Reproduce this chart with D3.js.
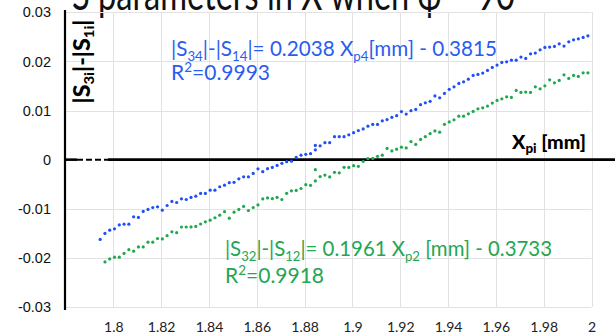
<!DOCTYPE html>
<html>
<head>
<meta charset="utf-8">
<script src="https://cdn.jsdelivr.net/npm/d3@7"></script>
<style>
  html, body { margin: 0; padding: 0; background: #fff; }
  svg { display: block; }
</style>
</head>
<body>
<script>
// Probe position X_pi [mm] for each measurement (one repeated reading at 1.8845)
const xValues = [
  1.7945, 1.7965, 1.7985, 1.8005, 1.8025, 1.8045, 1.8065, 1.8085, 1.8105, 1.8125,
  1.8145, 1.8165, 1.8185, 1.8205, 1.8225, 1.8245, 1.8265, 1.8285, 1.8305, 1.8325,
  1.8345, 1.8365, 1.8385, 1.8405, 1.8425, 1.8445, 1.8465, 1.8485, 1.8505, 1.8525,
  1.8545, 1.8565, 1.8585, 1.8605, 1.8625, 1.8645, 1.8665, 1.8685, 1.8705, 1.8725,
  1.8745, 1.8765, 1.8785, 1.8805, 1.8825, 1.8845, 1.8845, 1.8865, 1.8885, 1.8905,
  1.8925, 1.8945, 1.8965, 1.8985, 1.9005, 1.9025, 1.9045, 1.9065, 1.9085, 1.9105,
  1.9125, 1.9145, 1.9165, 1.9185, 1.9205, 1.9225, 1.9245, 1.9265, 1.9285, 1.9305,
  1.9325, 1.9345, 1.9365, 1.9385, 1.9405, 1.9425, 1.9445, 1.9465, 1.9485, 1.9505,
  1.9525, 1.9545, 1.9565, 1.9585, 1.9605, 1.9625, 1.9645, 1.9665, 1.9685, 1.9705,
  1.9725, 1.9745, 1.9765, 1.9785, 1.9805, 1.9825, 1.9845, 1.9865, 1.9885, 1.9905,
  1.9925, 1.9945, 1.9965, 1.9985
];

// |S34| - |S14|  (port 4 sweep)
const s34minusS14 = [
  -0.01625, -0.01503, -0.01436, -0.01409, -0.01328, -0.01314, -0.01314, -0.01165, -0.01177, -0.01055,
  -0.01014, -0.00974, -0.00961, -0.01029, -0.00933, -0.00851, -0.00872, -0.00798, -0.00811, -0.00770,
  -0.00743, -0.00688, -0.00688, -0.00621, -0.00621, -0.00552, -0.00519, -0.00468, -0.00462, -0.00391,
  -0.00350, -0.00350, -0.00281, -0.00187, -0.00244, -0.00183, -0.00159, -0.00118, -0.00075, -0.00041,
  -0.00031, 0.00045, 0.00092, 0.00108, 0.00122, 0.00200, 0.00289, 0.00281, 0.00346, 0.00346,
  0.00468, 0.00468, 0.00468, 0.00505, 0.00550, 0.00591, 0.00625, 0.00682, 0.00717, 0.00717,
  0.00790, 0.00815, 0.00862, 0.00896, 0.00978, 0.00927, 0.00998, 0.01022, 0.01120, 0.01157,
  0.01187, 0.01297, 0.01259, 0.01348, 0.01432, 0.01483, 0.01552, 0.01585, 0.01639, 0.01715,
  0.01735, 0.01762, 0.01817, 0.01878, 0.01925, 0.01980, 0.01992, 0.02026, 0.02026, 0.02088,
  0.02061, 0.02155, 0.02169, 0.02236, 0.02285, 0.02291, 0.02305, 0.02358, 0.02312, 0.02399,
  0.02440, 0.02460, 0.02489, 0.02521
];

// |S32| - |S12|  (port 2 sweep, no reading at the first position)
const s32minusS12 = [
  null, -0.02082, -0.02022, -0.01986, -0.01986, -0.01910, -0.01833, -0.01864, -0.01776, -0.01776,
  -0.01680, -0.01680, -0.01605, -0.01615, -0.01548, -0.01470, -0.01487, -0.01371, -0.01371, -0.01369,
  -0.01360, -0.01310, -0.01265, -0.01232, -0.01183, -0.01130, -0.01059, -0.01191, -0.01069, -0.01014,
  -0.00953, -0.01035, -0.00974, -0.00921, -0.00800, -0.00780, -0.00794, -0.00770, -0.00811, -0.00686,
  -0.00635, -0.00627, -0.00587, -0.00509, -0.00523, -0.00434, -0.00204, -0.00344, -0.00314, -0.00352,
  -0.00259, -0.00269, -0.00157, -0.00159, -0.00122, -0.00136, -0.00035, 0.00020, 0.00024, 0.00067,
  0.00092, 0.00228, 0.00177, 0.00214, 0.00255, 0.00238, 0.00367, 0.00310, 0.00411, 0.00468,
  0.00530, 0.00585, 0.00560, 0.00719, 0.00768, 0.00811, 0.00886, 0.00886, 0.00933, 0.00982,
  0.01035, 0.01055, 0.01090, 0.01151, 0.01206, 0.01238, 0.01279, 0.01267, 0.01409, 0.01369,
  0.01375, 0.01369, 0.01483, 0.01442, 0.01503, 0.01625, 0.01564, 0.01613, 0.01727, 0.01654,
  0.01715, 0.01694, 0.01768, 0.01768
];

const xTicks = [1.8, 1.82, 1.84, 1.86, 1.88, 1.9, 1.92, 1.94, 1.96, 1.98, 2];
const yTicks = [-0.03, -0.02, -0.01, 0, 0.01, 0.02, 0.03];

const BLUE = "#1f50f5";
const GREEN = "#1fa84e";
const BLUE_TEXT = "#2a5cf0";
const GREEN_TEXT = "#22a653";
const CAL = "Lato, 'Open Sans', sans-serif";

const W = 615, H = 334;
const svg = d3.select("body").append("svg").attr("width", W).attr("height", H);

const x = d3.scaleLinear().domain([1.78, 2.0]).range([65.5, 591.5]);
const y = d3.scaleLinear().domain([-0.03, 0.03]).range([307, 12.3]);

// Title (runs off the top edge), condensed to the chart's title width
const title = svg.append("text")
  .attr("x", 72).attr("y", 10)
  .attr("font-family", CAL).attr("font-size", 44)
  .attr("fill", "#111")
  .text("S parameters in X when \u03C6 = 90\u00B0");
const titleW = title.node().getComputedTextLength();
title.attr("textLength", titleW * 0.74).attr("lengthAdjust", "spacingAndGlyphs");

// Grid
const grid = svg.append("g").attr("stroke", "#e2e2e2").attr("stroke-width", 1);
grid.selectAll("line.v").data(xTicks).join("line")
  .attr("x1", d => Math.round(x(d)) + 0.5).attr("x2", d => Math.round(x(d)) + 0.5)
  .attr("y1", y(0.03)).attr("y2", y(-0.03));
grid.selectAll("line.h").data(yTicks.filter(d => d !== 0)).join("line")
  .attr("x1", x(1.78)).attr("x2", x(2.0))
  .attr("y1", d => Math.round(y(d)) + 0.5).attr("y2", d => Math.round(y(d)) + 0.5);

// Y tick labels
const fmt = d => String(+d.toFixed(2));
const yAxis = svg.append("g").attr("transform", "translate(51,0)")
  .call(d3.axisLeft(y).tickValues(yTicks).tickSize(0).tickPadding(0).tickFormat(fmt));
yAxis.select(".domain").remove();
yAxis.selectAll("text")
  .attr("font-family", "'Liberation Sans', Arial, sans-serif")
  .attr("font-size", 14.5).attr("fill", "#111");

// X tick labels
const xAxis = svg.append("g").attr("transform", "translate(0,331.5)")
  .call(d3.axisBottom(x).tickValues(xTicks).tickSize(0).tickPadding(0).tickFormat(fmt));
xAxis.select(".domain").remove();
xAxis.selectAll("text")
  .attr("y", 0).attr("dy", null)
  .attr("font-family", CAL).attr("font-size", 14).attr("fill", "#222");

// Vertical axis line
svg.append("line")
  .attr("x1", 65).attr("x2", 65).attr("y1", 10).attr("y2", 310)
  .attr("stroke", "#000").attr("stroke-width", 2.2);

// Zero line (with a short dashed stretch near the start)
const y0 = y(0);
svg.append("line").attr("x1", 65).attr("x2", 77).attr("y1", y0).attr("y2", y0)
  .attr("stroke", "#000").attr("stroke-width", 2.6);
svg.append("line").attr("x1", 77).attr("x2", 108).attr("y1", y0).attr("y2", y0)
  .attr("stroke", "#000").attr("stroke-width", 2).attr("stroke-dasharray", "6,3");
svg.append("line").attr("x1", 108).attr("x2", W).attr("y1", y0).attr("y2", y0)
  .attr("stroke", "#000").attr("stroke-width", 2.6);

// Data points
function drawSeries(values, color) {
  const pts = xValues.map((xv, i) => ({ xv, v: values[i] })).filter(d => d.v !== null);
  svg.append("g").selectAll("circle").data(pts).join("circle")
    .attr("cx", d => x(d.xv)).attr("cy", d => y(d.v))
    .attr("r", 1.6).attr("fill", color);
}
drawSeries(s34minusS14, BLUE);
drawSeries(s32minusS12, GREEN);

// Equation labels
function equation(x0, yBase, color, parts, width) {
  const t = svg.append("text")
    .attr("x", x0).attr("y", yBase)
    .attr("font-family", CAL).attr("font-size", 21).attr("fill", color)
    .attr("textLength", width).attr("lengthAdjust", "spacingAndGlyphs");
  parts.forEach(p => {
    const s = t.append("tspan").text(p.t);
    if (p.sub) s.attr("font-size", 13.5).attr("dy", 5);
    if (p.back) s.attr("dy", -5);
  });
  return t;
}
function rsq(x0, yBase, color, value) {
  const t = svg.append("text").attr("x", x0).attr("y", yBase)
    .attr("font-family", CAL).attr("font-size", 21).attr("fill", color);
  t.append("tspan").text("R");
  t.append("tspan").text("2").attr("font-size", 13.5).attr("dy", -8);
  t.append("tspan").text("=" + value).attr("dy", 8);
}

equation(171, 55.5, BLUE_TEXT, [
  { t: "|S" }, { t: "34", sub: true }, { t: "|-|S", back: true }, { t: "14", sub: true },
  { t: "|= 0.2038 X", back: true }, { t: "p4", sub: true }, { t: "[mm] - 0.3815", back: true }
], 326);
rsq(171, 80, BLUE_TEXT, "0.9993");

equation(225, 255.5, GREEN_TEXT, [
  { t: "|S" }, { t: "32", sub: true }, { t: "|-|S", back: true }, { t: "12", sub: true },
  { t: "|= 0.1961 X", back: true }, { t: "p2", sub: true }, { t: " [mm] - 0.3733", back: true }
], 327);
rsq(225, 282.5, GREEN_TEXT, "0.9918");

// Axis titles
const yt = svg.append("text")
  .attr("transform", "translate(90,61.5) rotate(-90)")
  .attr("text-anchor", "middle")
  .attr("font-family", CAL).attr("font-weight", "900").attr("font-size", 22)
  .attr("fill", "#000")
  .attr("textLength", 84).attr("lengthAdjust", "spacingAndGlyphs");
yt.append("tspan").text("|S");
yt.append("tspan").text("3i").attr("font-size", 14).attr("dy", 4);
yt.append("tspan").text("|-|S").attr("dy", -4);
yt.append("tspan").text("1i").attr("font-size", 14).attr("dy", 4);
yt.append("tspan").text("|").attr("dy", -4);

const xt = svg.append("text")
  .attr("x", 512).attr("y", 149)
  .attr("font-family", CAL).attr("font-weight", "900").attr("font-size", 19)
  .attr("fill", "#000")
  .attr("textLength", 74).attr("lengthAdjust", "spacingAndGlyphs");
xt.append("tspan").text("X");
xt.append("tspan").text("pi").attr("font-size", 13).attr("dy", 4);
xt.append("tspan").text(" [mm]").attr("dy", -4);
</script>
</body>
</html>
